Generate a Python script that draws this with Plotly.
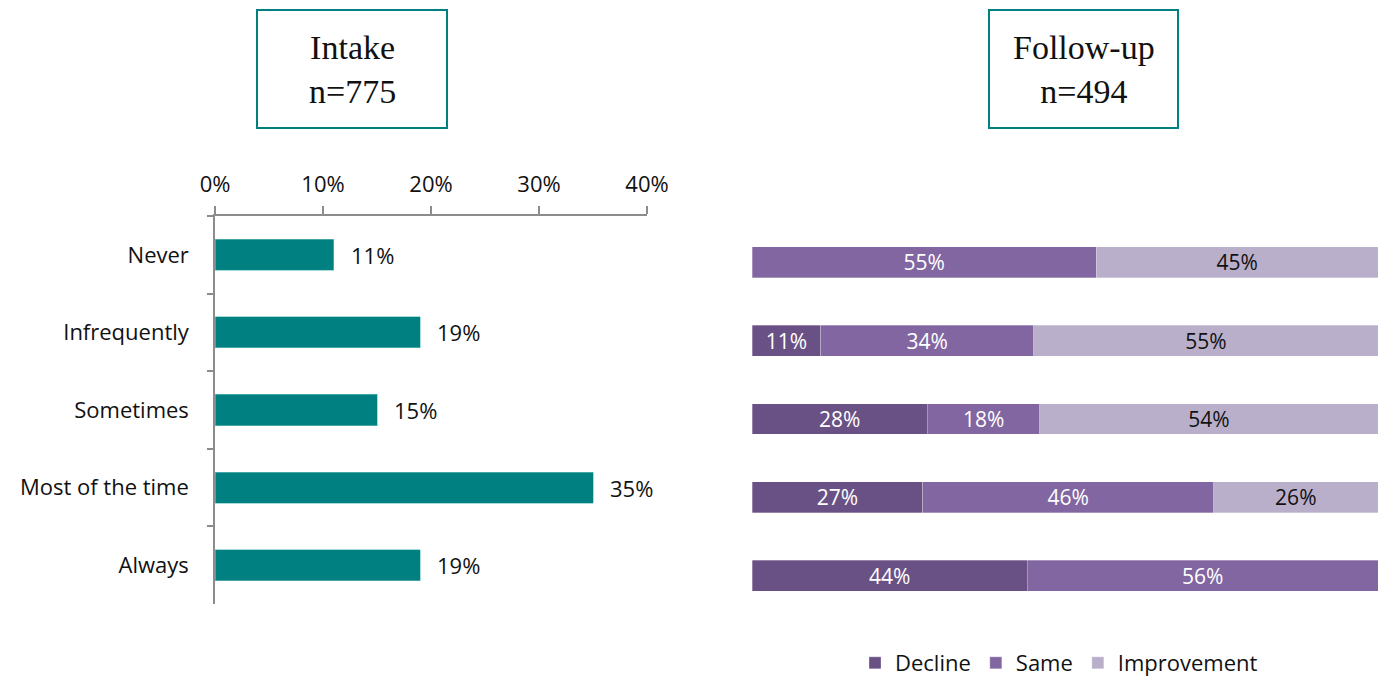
import plotly.graph_objects as go

# Frequency categories (top to bottom)
categories = ["Never", "Infrequently", "Sometimes", "Most of the time", "Always"]

# Intake distribution (%)
intake_pct = [11, 19, 15, 35, 19]

# Follow-up change by intake category (%)
decline = [0, 11, 28, 27, 44]
same = [55, 34, 18, 46, 56]
improvement = [45, 55, 54, 26, 0]

intake_ticks = [0, 10, 20, 30, 40]

TEAL = "#008080"
DECLINE_C = "#6A5185"
SAME_C = "#8166A1"
IMPROVE_C = "#B9AFCA"
AXIS_C = "#8C8C8C"
SANS = "Open Sans"

W, H = 1384, 677


def px_x(x):
    return x / W


def px_y(y):
    return 1 - y / H


# Each follow-up row is drawn as a 100% stack
row_totals = [d + s + i for d, s, i in zip(decline, same, improvement)]


def share(vals):
    return [v / t * 100 for v, t in zip(vals, row_totals)]


fig = go.Figure()

# Left panel: intake bars
fig.add_trace(go.Bar(
    x=intake_pct, y=categories, orientation="h",
    marker=dict(color=TEAL, line=dict(color="#6fc3bf", width=0.6)),
    width=0.4, showlegend=False, xaxis="x", yaxis="y",
    hovertemplate="%{y}: %{x}%<extra></extra>",
))

# Right panel: follow-up stacked bars
series = [("Decline", decline, DECLINE_C, "white"),
          ("Same", same, SAME_C, "white"),
          ("Improvement", improvement, IMPROVE_C, "#111111")]
for name, vals, col, tcol in series:
    fig.add_trace(go.Bar(
        x=share(vals), y=categories, orientation="h", name=name,
        marker=dict(color=col, line=dict(color="rgba(255,255,255,0.5)", width=0.6)),
        width=0.395,
        text=[f"{v}%" if v else "" for v in vals],
        textposition="inside", insidetextanchor="middle", textangle=0,
        constraintext="none",
        textfont=dict(family=SANS, size=21, color=tcol),
        xaxis="x2", yaxis="y2",
        hovertemplate=name + ": %{text}<extra></extra>",
    ))

# Value labels beside the intake bars
annotations = []
for cat, v in zip(categories, intake_pct):
    annotations.append(dict(
        x=v, y=cat, xref="x", yref="y", text=f"{v}%", showarrow=False,
        xanchor="left", xshift=15, font=dict(family=SANS, size=22, color="#111111"),
    ))

# Panel header boxes
headers = [("Intake<br>n=775", 257, 447), ("Follow-up<br>n=494", 989, 1178)]
shapes = []
for txt, x0, x1 in headers:
    shapes.append(dict(
        type="rect", xref="paper", yref="paper",
        x0=px_x(x0), x1=px_x(x1), y0=px_y(128), y1=px_y(10),
        line=dict(color=TEAL, width=2), fillcolor="white",
    ))
    annotations.append(dict(
        x=px_x((x0 + x1) / 2), y=px_y(69), xref="paper", yref="paper",
        text=txt, showarrow=False, xanchor="center", yanchor="middle",
        font=dict(family="Liberation Serif", size=34, color="#111111"),
    ))

fig.update_layout(
    width=W, height=H,
    margin=dict(l=0, r=0, t=0, b=0, autoexpand=False),
    paper_bgcolor="white", plot_bgcolor="white",
    barmode="stack",
    font=dict(family=SANS, size=22, color="#111111"),
    xaxis=dict(
        domain=[px_x(215), px_x(647)], anchor="y", side="top",
        range=[0, 40], tickvals=intake_ticks,
        ticktext=[f"{t}%" for t in intake_ticks],
        showgrid=False, zeroline=False, showline=True, linecolor=AXIS_C, linewidth=1.5,
        ticks="outside", ticklen=8, tickcolor=AXIS_C, tickwidth=1.5,
        ticklabelstandoff=5, automargin=False,
        tickfont=dict(family=SANS, size=22, color="#111111"),
    ),
    yaxis=dict(
        domain=[px_y(604), px_y(216)], anchor="x",
        categoryorder="array", categoryarray=categories, autorange="reversed",
        showgrid=False, zeroline=False, showline=True, linecolor=AXIS_C, linewidth=1.5,
        ticks="outside", tickson="boundaries", ticklen=6, tickcolor=AXIS_C, tickwidth=1.5,
        ticklabelstandoff=20, automargin=False,
        tickfont=dict(family=SANS, size=22, color="#111111"),
    ),
    xaxis2=dict(
        domain=[px_x(752), px_x(1378)], anchor="y2", range=[0, 100],
        visible=False, fixedrange=True,
    ),
    yaxis2=dict(
        domain=[px_y(615), px_y(223)], anchor="x2",
        categoryorder="array", categoryarray=categories, autorange="reversed",
        visible=False,
    ),
    legend=dict(
        orientation="h", x=px_x(855), y=px_y(663), xanchor="left", yanchor="middle",
        font=dict(family=SANS, size=22, color="#111111"),
        traceorder="normal",
    ),
    shapes=shapes,
    annotations=annotations,
)

fig.write_html("out.html")
